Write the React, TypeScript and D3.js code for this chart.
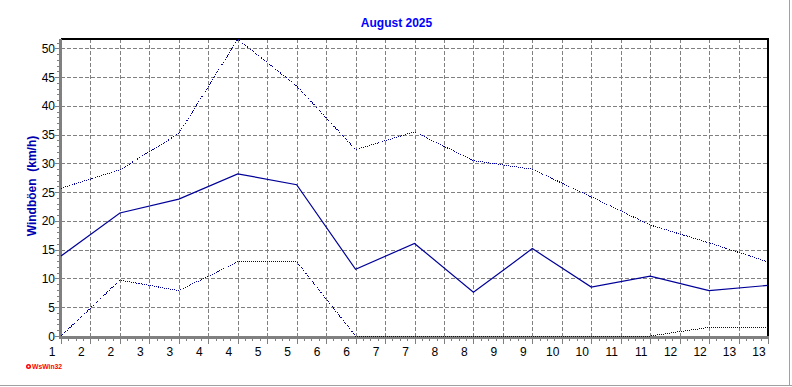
import React from "react";
import * as d3 from "d3";

const days = [1, 2, 3, 4, 5, 6, 7, 8, 9, 10, 11, 12, 13];
const gustMax = [25.7, 28.9, 35.2, 51.6, 43.5, 32.4, 35.5, 30.5, 29.0, 24.2, 19.3, 16.2, 12.9];
const gustMean = [13.9, 21.4, 23.8, 28.2, 26.3, 11.6, 16.1, 7.6, 15.2, 8.5, 10.4, 7.9, 8.8];
const gustMin = [0, 9.7, 7.9, 12.9, 12.9, 0, 0, 0, 0, 0, 0, 1.5, 1.5];
const xTickValues = d3.range(1, 13.01, 0.5);
const xTickLabels = ["1", "2", "2", "3", "3", "4", "4", "5", "5", "6", "6", "7", "7", "8", "8", "9", "9", "10", "10", "11", "11", "12", "12", "13", "13"];
const yTicks = [0, 5, 10, 15, 20, 25, 30, 35, 40, 45, 50];
const yMax = 51.65;
const title = "August 2025";
const yLabel = "Windböen  (km/h)";

const W = 792;
const H = 387;
const L = 61, R = 768, T = 39, B = 336;
const FONT = "Arial, 'Liberation Sans', sans-serif";
const LINE = "#000099";
const GRID = "#808080";

export default function App() {
  const x = d3.scaleLinear().domain([1, 13]).range([L, R]);
  const y = d3.scaleLinear().domain([0, yMax]).range([B, T]);
  const line = d3.line<number>().x((_, i) => x(days[i])).y((v) => y(v));

  const minorX = d3.range(1, 13.001, 0.125);
  const minorY = d3.range(0, 52, 1);

  return (
    <svg width={W} height={H} style={{ position: "absolute", left: 0, top: 0, background: "#fff" }}>
      <rect x={0} y={0} width={W} height={H} fill="#fff" />
      {/* window frame */}
      <line x1={0} x2={W} y1={385.5} y2={385.5} stroke="#a0a0a0" strokeWidth={1} />
      <line x1={789.5} x2={789.5} y1={0} y2={386} stroke="#a0a0a0" strokeWidth={1} />

      {/* title */}
      <text x={396.5} y={26.5} textAnchor="middle" fontFamily={FONT} fontWeight="bold" fontSize={12} fill="#0000FF">
        {title}
      </text>

      {/* horizontal grid */}
      {yTicks.filter((v) => v > 0).map((v) => (
        <line key={"hg" + v} x1={L} x2={R} y1={Math.round(y(v)) + 0.5} y2={Math.round(y(v)) + 0.5}
          stroke={GRID} strokeDasharray="4,2" shapeRendering="crispEdges" />
      ))}
      {/* vertical grid */}
      {xTickValues.filter((v) => v > 1 && v < 13).map((v) => (
        <line key={"vg" + v} x1={Math.round(x(v)) + 0.5} x2={Math.round(x(v)) + 0.5} y1={T} y2={B}
          stroke={GRID} strokeDasharray="4,2" shapeRendering="crispEdges" />
      ))}

      {/* frame top/right */}
      <line x1={L} x2={R + 1} y1={T} y2={T} stroke="#000" strokeWidth={2} shapeRendering="crispEdges" />
      <line x1={R} x2={R} y1={T} y2={B} stroke="#000" strokeWidth={2} shapeRendering="crispEdges" />

      {/* x minor/major ticks */}
      {minorX.map((v, i) => (
        <line key={"xt" + i} x1={Math.round(x(v)) + 0.5} x2={Math.round(x(v)) + 0.5} y1={B}
          y2={i % 4 === 0 ? B + 8 : B + 5} stroke={GRID} shapeRendering="crispEdges" />
      ))}
      {/* y minor/major ticks */}
      {minorY.map((v) => (
        <line key={"yt" + v} x1={v % 5 === 0 ? L - 6 : L - 4} x2={L} y1={Math.round(y(v)) + 0.5} y2={Math.round(y(v)) + 0.5}
          stroke={GRID} shapeRendering="crispEdges" />
      ))}

      {/* axes */}
      <rect x={59} y={T} width={3} height={B - T + 2} fill={GRID} />
      <rect x={59} y={B} width={R - 59 + 1} height={3} fill={GRID} />

      {/* y tick labels */}
      {yTicks.map((v) => (
        <text key={"yl" + v} x={55} y={y(v) + 4.5} textAnchor="end" fontFamily={FONT} fontSize={12} fill="#000">
          {v}
        </text>
      ))}
      {/* x tick labels */}
      {xTickValues.map((v, i) => (
        <text key={"xl" + i} x={x(v) - 9} y={355.5} textAnchor="middle" fontFamily={FONT} fontSize={12} fill="#000">
          {xTickLabels[i]}
        </text>
      ))}

      {/* y label */}
      <text transform={`translate(36,186) rotate(-90)`} textAnchor="middle" fontFamily={FONT} fontWeight="bold"
        fontSize={12} fill="#0000B0" style={{ whiteSpace: "pre" }}>
        {yLabel}
      </text>

      {/* data lines */}
      <path d={line(gustMax) || ""} fill="none" stroke={LINE} strokeWidth={1} strokeDasharray="1,1" shapeRendering="crispEdges" />
      <path d={line(gustMin) || ""} fill="none" stroke={LINE} strokeWidth={1} strokeDasharray="1,1" shapeRendering="crispEdges" />
      <path d={line(gustMean) || ""} fill="none" stroke={LINE} strokeWidth={1.2} />

      {/* WsWin32 mark */}
      <circle cx={28.5} cy={366.5} r={2.5} fill="#ff0000" />
      <circle cx={28.5} cy={366.5} r={1} fill="#fff" />
      <text x={32} y={369} fontFamily={FONT} fontWeight="bold" fontSize={6.8} fill="#ff0000">
        WsWin32
      </text>
    </svg>
  );
}
